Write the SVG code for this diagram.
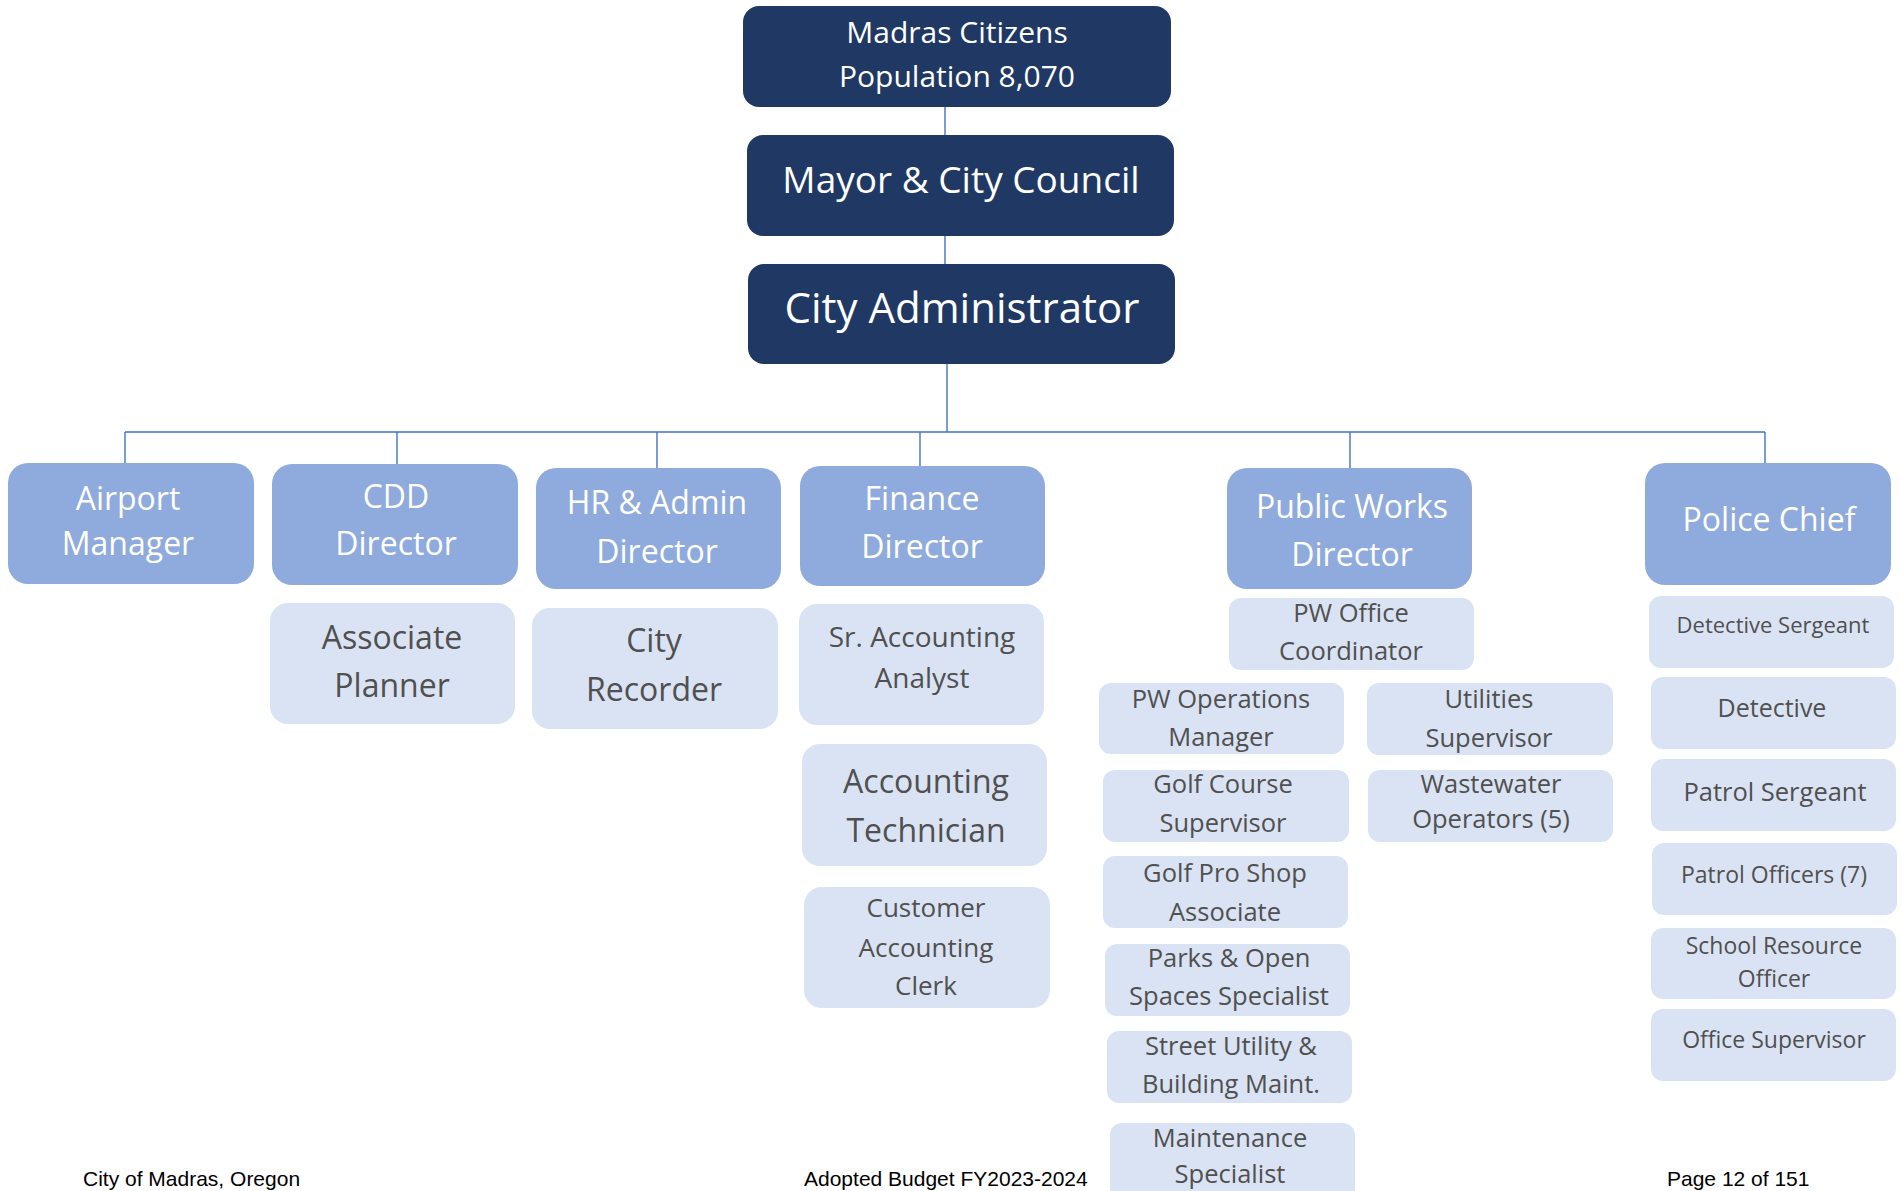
<svg xmlns="http://www.w3.org/2000/svg" width="1902" height="1191" viewBox="0 0 1902 1191">
<style>
.l1{fill:#203864}
.l2{fill:#8FAADC}
.l3{fill:#DAE3F3}
text{font-family:"Open Sans","Noto Sans","Liberation Sans",sans-serif;text-anchor:middle}
.w{fill:#FFFFFF}
.g{fill:#505050}
.ft{font-family:"Liberation Sans",Arial,sans-serif;font-size:21px;fill:#000000;text-anchor:start}
.c{stroke:#4472C4;stroke-width:1.4;fill:none}
</style>
<rect width="1902" height="1191" fill="#FFFFFF"/>
<g id="connectors">
<path class="c" d="M945 107V135M945 236V264M947 364V432M125 432H1765M125 432V463M397 432V464M657 432V468M920 432V466M1350 432V468M1765 432V463"/>
</g>
<g id="citizens"><rect class="l1" x="743" y="6" width="428" height="101" rx="16"/><text class="w" font-size="30" x="957" y="43">Madras Citizens</text><text class="w" font-size="30" x="957" y="87">Population 8,070</text></g>
<g id="mayor"><rect class="l1" x="747" y="135" width="427" height="101" rx="16"/><text class="w" font-size="37" x="961" y="193">Mayor &amp; City Council</text></g>
<g id="administrator"><rect class="l1" x="748" y="264" width="427" height="100" rx="16"/><text class="w" font-size="42" x="962" y="323">City Administrator</text></g>

<g id="airport"><rect class="l2" x="8" y="463" width="246" height="121" rx="20"/><text class="w" font-size="32" x="128" y="510">Airport</text><text class="w" font-size="32" x="128" y="555">Manager</text></g>
<g id="cdd"><rect class="l2" x="272" y="464" width="246" height="121" rx="20"/><text class="w" font-size="32" x="396" y="508">CDD</text><text class="w" font-size="32" x="396" y="555">Director</text></g>
<g id="hr"><rect class="l2" x="536" y="468" width="245" height="121" rx="20"/><text class="w" font-size="32" x="657" y="514">HR &amp; Admin</text><text class="w" font-size="32" x="657" y="563">Director</text></g>
<g id="finance"><rect class="l2" x="800" y="466" width="245" height="120" rx="20"/><text class="w" font-size="32" x="922" y="510">Finance</text><text class="w" font-size="32" x="922" y="558">Director</text></g>
<g id="publicworks"><rect class="l2" x="1227" y="468" width="245" height="121" rx="20"/><text class="w" font-size="32" x="1352" y="518">Public Works</text><text class="w" font-size="32" x="1352" y="566">Director</text></g>
<g id="police"><rect class="l2" x="1645" y="463" width="246" height="122" rx="20"/><text class="w" font-size="32" x="1769" y="531">Police Chief</text></g>

<g id="associate-planner"><rect class="l3" x="270" y="603" width="245" height="121" rx="18"/><text class="g" font-size="32" x="392" y="649">Associate</text><text class="g" font-size="32" x="392" y="697">Planner</text></g>
<g id="city-recorder"><rect class="l3" x="532" y="608" width="246" height="121" rx="18"/><text class="g" font-size="32" x="654" y="652">City</text><text class="g" font-size="32" x="654" y="701">Recorder</text></g>
<g id="sr-accounting"><rect class="l3" x="799" y="604" width="245" height="121" rx="18"/><text class="g" font-size="28" x="922" y="647">Sr. Accounting</text><text class="g" font-size="28" x="922" y="688">Analyst</text></g>
<g id="accounting-tech"><rect class="l3" x="802" y="744" width="245" height="122" rx="18"/><text class="g" font-size="32" x="926" y="793">Accounting</text><text class="g" font-size="32" x="926" y="842">Technician</text></g>
<g id="customer-clerk"><rect class="l3" x="804" y="887" width="246" height="121" rx="18"/><text class="g" font-size="26" x="926" y="917">Customer</text><text class="g" font-size="26" x="926" y="957">Accounting</text><text class="g" font-size="26" x="926" y="995">Clerk</text></g>

<g id="pw-office"><rect class="l3" x="1229" y="598" width="245" height="72" rx="12"/><text class="g" font-size="25.5" x="1351" y="622">PW Office</text><text class="g" font-size="25.5" x="1351" y="660">Coordinator</text></g>
<g id="pw-ops"><rect class="l3" x="1099" y="683" width="245" height="71" rx="12"/><text class="g" font-size="25.5" x="1221" y="708">PW Operations</text><text class="g" font-size="25.5" x="1221" y="746">Manager</text></g>
<g id="utilities"><rect class="l3" x="1367" y="683" width="246" height="72" rx="12"/><text class="g" font-size="25.5" x="1489" y="708">Utilities</text><text class="g" font-size="25.5" x="1489" y="747">Supervisor</text></g>
<g id="golf-course"><rect class="l3" x="1103" y="770" width="246" height="72" rx="12"/><text class="g" font-size="25.5" x="1223" y="793">Golf Course</text><text class="g" font-size="25.5" x="1223" y="832">Supervisor</text></g>
<g id="wastewater"><rect class="l3" x="1368" y="770" width="245" height="72" rx="12"/><text class="g" font-size="25.5" x="1491" y="793">Wastewater</text><text class="g" font-size="25.5" x="1491" y="828">Operators (5)</text></g>
<g id="golf-pro"><rect class="l3" x="1103" y="856" width="245" height="72" rx="12"/><text class="g" font-size="25.5" x="1225" y="882">Golf Pro Shop</text><text class="g" font-size="25.5" x="1225" y="921">Associate</text></g>
<g id="parks"><rect class="l3" x="1105" y="944" width="245" height="72" rx="12"/><text class="g" font-size="25.5" x="1229" y="967">Parks &amp; Open</text><text class="g" font-size="25.5" x="1229" y="1005">Spaces Specialist</text></g>
<g id="street"><rect class="l3" x="1107" y="1031" width="245" height="72" rx="12"/><text class="g" font-size="25.5" x="1231" y="1055">Street Utility &amp;</text><text class="g" font-size="25.5" x="1231" y="1093">Building Maint.</text></g>
<g id="maintenance"><rect class="l3" x="1110" y="1123" width="245" height="80" rx="12"/><text class="g" font-size="25.5" x="1230" y="1147">Maintenance</text><text class="g" font-size="25.5" x="1230" y="1183">Specialist</text></g>

<g id="detective-sergeant"><rect class="l3" x="1649" y="596" width="245" height="72" rx="12"/><text class="g" font-size="22" x="1773" y="633">Detective Sergeant</text></g>
<g id="detective"><rect class="l3" x="1651" y="677" width="245" height="72" rx="12"/><text class="g" font-size="25" x="1772" y="717">Detective</text></g>
<g id="patrol-sergeant"><rect class="l3" x="1651" y="759" width="245" height="72" rx="12"/><text class="g" font-size="25.5" x="1775" y="801">Patrol Sergeant</text></g>
<g id="patrol-officers"><rect class="l3" x="1652" y="843" width="245" height="72" rx="12"/><text class="g" font-size="23" x="1774" y="883">Patrol Officers (7)</text></g>
<g id="school-resource"><rect class="l3" x="1651" y="928" width="245" height="71" rx="12"/><text class="g" font-size="23" x="1774" y="954">School Resource</text><text class="g" font-size="23" x="1774" y="987">Officer</text></g>
<g id="office-supervisor"><rect class="l3" x="1651" y="1009" width="245" height="72" rx="12"/><text class="g" font-size="23" x="1774" y="1048">Office Supervisor</text></g>

<g id="footer">
<text class="ft" x="83" y="1186">City of Madras, Oregon</text>
<text class="ft" x="804" y="1186">Adopted Budget FY2023-2024</text>
<text class="ft" x="1667" y="1186">Page 12 of 151</text>
</g>
</svg>
